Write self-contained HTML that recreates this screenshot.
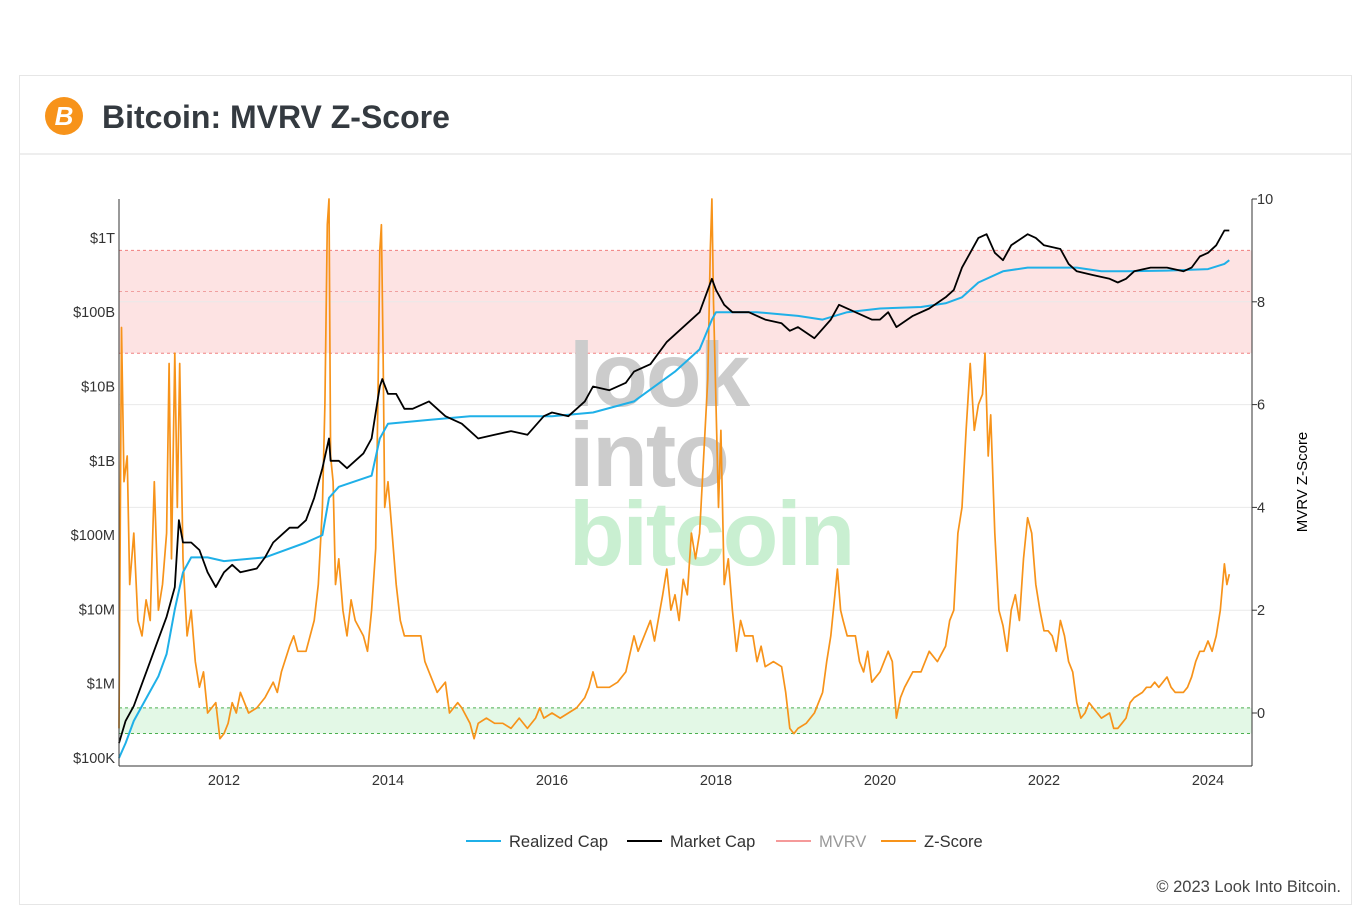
<!DOCTYPE html>
<html><head><meta charset="utf-8"><style>
html,body{margin:0;padding:0;background:#fff;}
body{width:1372px;height:912px;position:relative;overflow:hidden;font-family:"Liberation Sans",sans-serif;}
#card{position:absolute;left:19px;top:75px;width:1333px;height:830px;border:1px solid #e6e6e6;box-sizing:border-box;}
#hdr{position:absolute;left:0;top:0;width:100%;height:79px;border-bottom:2px solid #eee;box-sizing:border-box;}
#title{position:absolute;left:82px;top:23px;font-size:32px;font-weight:bold;color:#343a40;}
#icon{position:absolute;left:25px;top:21px;width:38px;height:38px;border-radius:50%;background:#f7931a;color:#fff;font-weight:bold;font-size:26px;text-align:center;line-height:38px;font-style:italic;}
#copy{position:absolute;right:31px;top:878px;font-size:16.5px;color:#444;}
</style></head><body>
<div id="card">
 <div id="hdr">
  <div id="icon">B</div>
  <div id="title">Bitcoin: MVRV Z-Score</div>
 </div>
</div>
<svg id="chart" width="1372" height="912" style="position:absolute;left:0;top:0"></svg>
<div id="copy">© 2023 Look Into Bitcoin.</div>
<script>
const zYears=[2010.72,2010.75,2010.78,2010.82,2010.85,2010.9,2010.95,2011.0,2011.05,2011.1,2011.15,2011.2,2011.25,2011.3,2011.33,2011.36,2011.4,2011.43,2011.46,2011.5,2011.55,2011.6,2011.65,2011.7,2011.75,2011.8,2011.9,2011.95,2012.0,2012.05,2012.1,2012.15,2012.2,2012.3,2012.4,2012.5,2012.6,2012.65,2012.7,2012.8,2012.85,2012.9,2013.0,2013.1,2013.15,2013.2,2013.23,2013.26,2013.28,2013.3,2013.33,2013.36,2013.4,2013.45,2013.5,2013.55,2013.6,2013.7,2013.75,2013.8,2013.85,2013.88,2013.9,2013.92,2013.94,2013.96,2014.0,2014.05,2014.1,2014.15,2014.2,2014.3,2014.4,2014.45,2014.5,2014.6,2014.7,2014.75,2014.85,2014.9,2015.0,2015.05,2015.1,2015.2,2015.3,2015.4,2015.5,2015.6,2015.7,2015.8,2015.85,2015.9,2016.0,2016.1,2016.2,2016.3,2016.4,2016.45,2016.5,2016.55,2016.6,2016.7,2016.8,2016.9,2017.0,2017.05,2017.1,2017.2,2017.25,2017.35,2017.4,2017.45,2017.5,2017.55,2017.6,2017.65,2017.7,2017.75,2017.8,2017.85,2017.9,2017.93,2017.95,2017.97,2018.0,2018.03,2018.06,2018.1,2018.15,2018.2,2018.25,2018.3,2018.35,2018.45,2018.5,2018.55,2018.6,2018.7,2018.8,2018.85,2018.9,2018.95,2019.0,2019.1,2019.2,2019.3,2019.35,2019.4,2019.45,2019.48,2019.52,2019.55,2019.6,2019.7,2019.75,2019.8,2019.85,2019.9,2020.0,2020.05,2020.1,2020.15,2020.2,2020.25,2020.3,2020.4,2020.5,2020.6,2020.7,2020.8,2020.85,2020.9,2020.95,2021.0,2021.05,2021.1,2021.15,2021.2,2021.25,2021.28,2021.32,2021.35,2021.4,2021.45,2021.5,2021.55,2021.6,2021.65,2021.7,2021.75,2021.8,2021.85,2021.9,2021.95,2022.0,2022.05,2022.1,2022.15,2022.2,2022.25,2022.3,2022.35,2022.4,2022.45,2022.5,2022.55,2022.6,2022.7,2022.8,2022.85,2022.9,2022.95,2023.0,2023.05,2023.1,2023.2,2023.25,2023.3,2023.35,2023.4,2023.45,2023.5,2023.55,2023.6,2023.7,2023.75,2023.8,2023.85,2023.9,2023.95,2024.0,2024.05,2024.1,2024.15,2024.2,2024.23,2024.26];
const zValues=[-0.3,7.5,4.5,5.0,2.5,3.5,1.8,1.5,2.2,1.8,4.5,2.0,2.5,3.5,6.8,3.0,7.0,4.0,6.8,3.0,1.5,2.0,1.0,0.5,0.8,0.0,0.2,-0.5,-0.4,-0.2,0.2,0.0,0.4,0.0,0.1,0.3,0.6,0.4,0.8,1.3,1.5,1.2,1.2,1.8,2.5,4.0,6.0,9.5,10.0,5.0,4.5,2.5,3.0,2.0,1.5,2.2,1.8,1.5,1.2,2.0,3.2,6.5,9.0,9.5,7.0,4.0,4.5,3.5,2.5,1.8,1.5,1.5,1.5,1.0,0.8,0.4,0.6,0.0,0.2,0.1,-0.2,-0.5,-0.2,-0.1,-0.2,-0.2,-0.3,-0.1,-0.3,-0.1,0.1,-0.1,0.0,-0.1,0.0,0.1,0.3,0.5,0.8,0.5,0.5,0.5,0.6,0.8,1.5,1.2,1.4,1.8,1.4,2.3,2.8,2.0,2.3,1.8,2.6,2.3,3.5,3.0,3.5,5.0,6.5,9.0,10.0,8.0,6.0,4.0,5.5,2.5,3.0,2.0,1.2,1.8,1.5,1.5,1.0,1.3,0.9,1.0,0.9,0.4,-0.3,-0.4,-0.3,-0.2,0.0,0.4,1.0,1.5,2.3,2.8,2.0,1.8,1.5,1.5,1.0,0.8,1.2,0.6,0.8,1.0,1.2,1.0,-0.1,0.3,0.5,0.8,0.8,1.2,1.0,1.3,1.8,2.0,3.5,4.0,5.5,6.8,5.5,6.0,6.2,7.0,5.0,5.8,3.5,2.0,1.7,1.2,2.0,2.3,1.8,3.0,3.8,3.5,2.5,2.0,1.6,1.6,1.5,1.2,1.8,1.5,1.0,0.8,0.2,-0.1,0.0,0.2,0.1,-0.1,0.0,-0.3,-0.3,-0.2,-0.1,0.2,0.3,0.4,0.5,0.5,0.6,0.5,0.6,0.7,0.5,0.4,0.4,0.5,0.7,1.0,1.2,1.2,1.4,1.2,1.5,2.0,2.9,2.5,2.7];
const mcYears=[2010.72,2010.8,2010.9,2011.0,2011.1,2011.2,2011.3,2011.4,2011.45,2011.5,2011.6,2011.7,2011.8,2011.9,2012.0,2012.1,2012.2,2012.4,2012.5,2012.6,2012.7,2012.8,2012.9,2013.0,2013.1,2013.2,2013.28,2013.3,2013.4,2013.5,2013.6,2013.7,2013.8,2013.9,2013.93,2014.0,2014.1,2014.2,2014.3,2014.5,2014.7,2014.9,2015.0,2015.1,2015.3,2015.5,2015.7,2015.9,2016.0,2016.2,2016.4,2016.5,2016.7,2016.9,2017.0,2017.2,2017.4,2017.6,2017.8,2017.95,2018.0,2018.1,2018.2,2018.4,2018.6,2018.8,2018.9,2019.0,2019.2,2019.4,2019.5,2019.7,2019.9,2020.0,2020.1,2020.2,2020.4,2020.6,2020.8,2020.9,2021.0,2021.1,2021.2,2021.3,2021.4,2021.5,2021.6,2021.8,2021.9,2022.0,2022.2,2022.3,2022.4,2022.6,2022.8,2022.9,2023.0,2023.1,2023.3,2023.5,2023.7,2023.8,2023.9,2024.0,2024.1,2024.2,2024.26];
const mcLog10=[5.2,5.5,5.7,6.0,6.3,6.6,6.9,7.3,8.2,7.9,7.9,7.8,7.5,7.3,7.5,7.6,7.5,7.55,7.7,7.9,8.0,8.1,8.1,8.2,8.5,8.9,9.3,9.0,9.0,8.9,9.0,9.1,9.3,10.0,10.1,9.9,9.9,9.7,9.7,9.8,9.6,9.5,9.4,9.3,9.35,9.4,9.35,9.6,9.65,9.6,9.8,10.0,9.95,10.05,10.2,10.3,10.6,10.8,11.0,11.45,11.3,11.1,11.0,11.0,10.9,10.85,10.75,10.8,10.65,10.9,11.1,11.0,10.9,10.9,11.0,10.8,10.95,11.05,11.2,11.3,11.6,11.8,12.0,12.05,11.8,11.7,11.9,12.05,12.0,11.9,11.85,11.65,11.55,11.5,11.45,11.4,11.45,11.55,11.6,11.6,11.55,11.6,11.75,11.8,11.9,12.1,12.1];
const rcYears=[2010.72,2010.8,2010.9,2011.0,2011.1,2011.2,2011.3,2011.4,2011.5,2011.6,2011.8,2012.0,2012.5,2013.0,2013.2,2013.28,2013.4,2013.8,2013.9,2014.0,2014.5,2015.0,2016.0,2016.5,2017.0,2017.5,2017.8,2017.95,2018.0,2018.5,2019.0,2019.3,2019.6,2020.0,2020.5,2020.8,2021.0,2021.2,2021.5,2021.8,2022.0,2022.4,2022.7,2023.0,2023.5,2024.0,2024.2,2024.26];
const rcLog10=[5.0,5.2,5.5,5.7,5.9,6.1,6.4,7.0,7.5,7.7,7.7,7.65,7.7,7.9,8.0,8.5,8.65,8.8,9.3,9.5,9.55,9.6,9.6,9.65,9.8,10.2,10.5,10.9,11.0,11.0,10.95,10.9,11.0,11.05,11.07,11.12,11.2,11.4,11.55,11.6,11.6,11.6,11.55,11.55,11.56,11.58,11.65,11.7];
const xTicks=[2012,2014,2016,2018,2020,2022,2024];
const leftTickVals=[5,6,7,8,9,10,11,12];
const leftTickLabels=["$100K","$1M","$10M","$100M","$1B","$10B","$100B","$1T"];
const rightTicks=[0,2,4,6,8,10];

const NS="http://www.w3.org/2000/svg";
const svg=document.getElementById('chart');
const L=119,R=1252,T=199,B=766;
const xS=y=>224+(y-2012)*82;
const yL=v=>758-(v-5)*74.3;
const yZ=v=>713-v*51.4;
function mk(tag,attrs,parent){const e=document.createElementNS(NS,tag);for(const k in attrs)e.setAttribute(k,attrs[k]);(parent||svg).appendChild(e);return e;}
let e;
e=mk('rect',{x:L,y:yZ(9),width:R-L,height:yZ(7)-yZ(9),fill:'#fde3e3'});

e=mk('rect',{x:L,y:yZ(0.1),width:R-L,height:yZ(-0.4)-yZ(0.1),fill:'#e3f8e6'});

rightTicks.forEach(t=>{if(t>0&&t<10){e=mk('line',{x1:L,x2:R,y1:yZ(t),y2:yZ(t),stroke:'#eaeaea','stroke-width':1});
}});
[[9,'#f08080'],[8.2,'#f0a0a0'],[7,'#f08080']].forEach(d=>{e=mk('line',{x1:L,x2:R,y1:yZ(d[0]),y2:yZ(d[0]),stroke:d[1],'stroke-width':1,'stroke-dasharray':'3,3'});
});
[0.1,-0.4].forEach(v=>{e=mk('line',{x1:L,x2:R,y1:yZ(v),y2:yZ(v),stroke:'#4caf50','stroke-width':1,'stroke-dasharray':'3,3'});
});
[['look',406,'#cccccc'],['into',486,'#cccccc'],['bitcoin',565,'#c9efd1']].forEach(d=>{e=mk('text',{x:569,y:d[1],'font-size':91,'font-weight':'bold','font-family':'Liberation Sans, sans-serif',fill:d[2],'letter-spacing':'-2'});e.textContent=d[0];
});
function line(xs,ys,fn,color,w,name){const pts=xs.map((x,i)=>xS(x).toFixed(1)+','+fn(ys[i]).toFixed(1)).join(' ');
const p=mk('polyline',{points:pts,fill:'none',stroke:color,'stroke-width':w,'stroke-linejoin':'round'});

}
line(zYears,zValues,yZ,'#f7931a',1.7,'z-score-line');
line(rcYears,rcLog10,yL,'#1fb0e8',2,'realized-cap-line');
line(mcYears,mcLog10,yL,'#000',1.8,'market-cap-line');
[[L,T,L,B],[R,T,R,B],[L,B,R,B]].forEach(a=>{e=mk('line',{x1:a[0],y1:a[1],x2:a[2],y2:a[3],stroke:'#333','stroke-width':1});
});
xTicks.forEach(t=>{e=mk('text',{x:xS(t),y:785,'text-anchor':'middle','font-size':14.5,fill:'#333'});e.textContent=t;
});
leftTickVals.forEach((v,i)=>{e=mk('text',{x:115,y:yL(v)+5,'text-anchor':'end','font-size':14.5,fill:'#333'});e.textContent=leftTickLabels[i];
});
rightTicks.forEach(t=>{mk('line',{x1:R,x2:R+5,y1:yZ(t),y2:yZ(t),stroke:'#333'});
e=mk('text',{x:1257,y:yZ(t)+5,'font-size':14.5,fill:'#333'});e.textContent=t;
});
e=mk('text',{x:1307,y:482,'text-anchor':'middle','font-size':15,fill:'#000',transform:'rotate(-90 1307 482)'});e.textContent='MVRV Z-Score';

[['Realized Cap','#1fb0e8','#333',466],['Market Cap','#000','#333',627],['MVRV','#f59a9a','#999',776],['Z-Score','#f7931a','#333',881]].forEach(d=>{
const g=mk('g',{});


mk('line',{x1:d[3],x2:d[3]+35,y1:841,y2:841,stroke:d[1],'stroke-width':2},g);
const t=mk('text',{x:d[3]+43,y:847,'font-size':16.5,fill:d[2]},g);t.textContent=d[0];});
</script>
</body></html>
